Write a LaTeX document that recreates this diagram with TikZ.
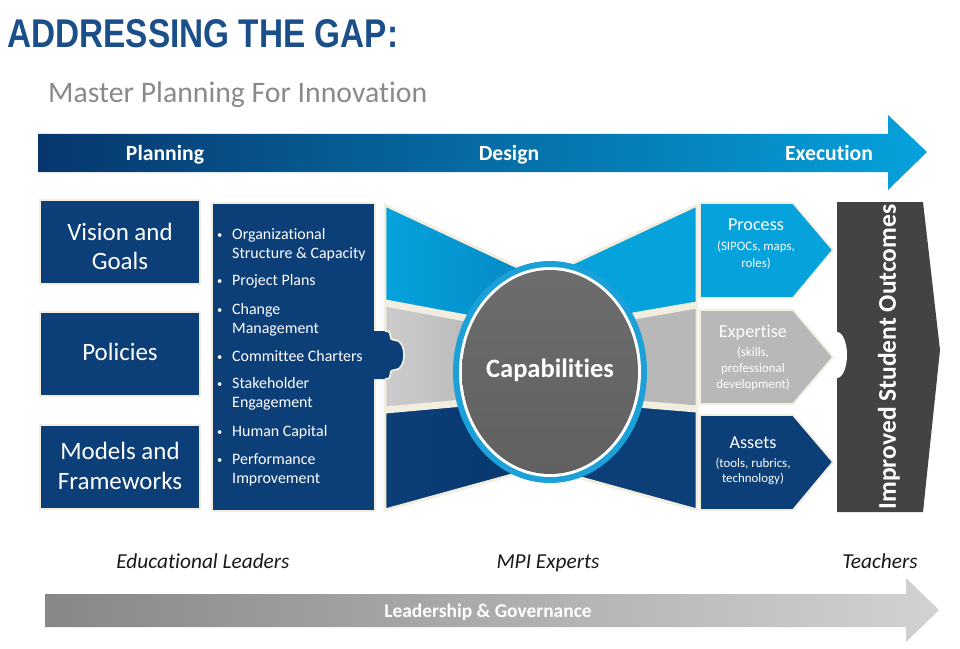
\documentclass[tikz,border=0pt]{standalone}
\usepackage{fontspec}
\setmainfont{Carlito}[Ligatures=NoCommon]
\newfontfamily\titlefont{Liberation Sans}
\usepackage{graphicx}
\usepackage{tikz}
\usetikzlibrary{calc}
\definecolor{navy}{HTML}{0C3E78}
\definecolor{navydeep}{HTML}{07366D}
\definecolor{sky}{HTML}{06A2DC}
\definecolor{skydeep}{HTML}{0588C3}
\definecolor{silver}{HTML}{B8B8B8}
\definecolor{charcoal}{HTML}{434343}
\definecolor{cream}{HTML}{F2EEDF}
\definecolor{heading}{HTML}{1B4F8A}
\definecolor{subgray}{HTML}{8A8A8A}
\definecolor{ring}{HTML}{1BA0D8}

\tikzset{
  barlabel/.style={font=\fontsize{18.5}{20}\selectfont\bfseries, text=white, anchor=base, inner sep=0pt},
  boxlabel/.style={font=\fontsize{21.3}{25}\selectfont, text=white, anchor=base, inner sep=0pt},
  bulletline/.style={font=\fontsize{13.6}{16}\selectfont, text=white, anchor=base west, inner sep=0pt},
  leftbox/.style={fill=navy, draw=cream, line width=1.5pt},
  rightbox/.style={draw=cream, line width=1.5pt, line join=round},
  rhead/.style={font=\fontsize{15.5}{18}\selectfont, text=white, anchor=base, inner sep=0pt},
  rsub/.style={font=\fontsize{11}{13}\selectfont, text=white, anchor=base, inner sep=0pt},
  role/.style={font=\fontsize{18.2}{21}\selectfont\itshape, text=black!90, anchor=base, inner sep=0pt},
}

\begin{document}
\begin{tikzpicture}[x=0.03cm, y=-0.03cm]
\useasboundingbox[fill=white] (0,0) rectangle (960,648);
% Heading
\node[anchor=south west, inner sep=0pt, text=heading] (title) at (7,48) {\resizebox{11.73cm}{0.84cm}{\titlefont\bfseries ADDRESSING THE GAP:}};
\node[anchor=base west, inner sep=0pt, text=subgray, font=\fontsize{25.4}{28}\selectfont] (subtitle) at (48,103) {Master Planning For Innovation};
%
% Phase arrow
\shade[left color=navydeep, right color=sky] (38,134) -- (888,134) -- (888,115) -- (927,152) -- (888,190) -- (888,172) -- (38,172) -- cycle;
\node[barlabel] (planning) at (165,160) {Planning};
\node[barlabel] (design) at (509,160) {Design};
\node[barlabel] (execution) at (829,160) {Execution};
%
% Planning boxes
\path[leftbox] (40,200) rectangle (200,284);
\node[boxlabel] (vision1) at (120,240) {Vision and};
\node[boxlabel] (vision2) at (120,269) {Goals};
\path[leftbox] (40,312) rectangle (200,396);
\node[boxlabel] (policies) at (120,360) {Policies};
\path[leftbox] (40,425) rectangle (200,509);
\node[boxlabel] (models1) at (120,459) {Models and};
\node[boxlabel] (models2) at (120,489) {Frameworks};
%
% Bullet list
\path[leftbox] (212,203) rectangle (375,511);
\foreach \yy/\txt [count=\i] in {239/Organizational, 258/{Structure \& Capacity}, 285/Project Plans, 314/Change, 333/Management, 361/Committee Charters, 388/Stakeholder, 407/Engagement, 436/Human Capital, 464/Performance, 483/Improvement}
  \node[bulletline] (item\i) at (232,\yy) {\txt};
\foreach \yy [count=\i] in {239,285,314,361,388,436,464}
  \node[bulletline, font=\fontsize{9}{11}\selectfont] (dot\i) at (217,\yy-1) {\textbullet};
%
% Bow tie bands
\shade[left color=sky, right color=skydeep] (385,205) -- (541,278) -- (541,332) -- (385,303) -- cycle;
\shade[left color=gray!40, right color=gray!65] (385,303) -- (541,332) -- (541,396) -- (385,410) -- cycle;
\shade[left color=navy, right color=navydeep] (385,410) -- (541,396) -- (541,467) -- (385,510) -- cycle;
\fill[sky] (697,205) -- (541,278) -- (541,332) -- (697,305) -- cycle;
\fill[silver] (697,305) -- (541,332) -- (541,396) -- (697,409) -- cycle;
\fill[navy] (697,409) -- (541,396) -- (541,467) -- (697,510) -- cycle;
\draw[cream, line width=6pt] (385,303) -- (541,332) -- (697,305);
\draw[cream, line width=6pt] (385,410) -- (541,396) -- (697,409);
\draw[cream, line width=2.5pt, line join=round] (385,205) -- (541,278) -- (697,205) -- (697,510) -- (541,467) -- (385,510) -- cycle;
%
% Puzzle tab
\fill[navy] (374,331) -- (385,331) .. controls (395,331) and (386,340) .. (395,340) .. controls (407,340) and (407,370) .. (395,370) .. controls (386,370) and (395,379) .. (385,379) -- (374,379) -- cycle;
\draw[cream, line width=1.5pt] (385,331) .. controls (395,331) and (386,340) .. (395,340) .. controls (407,340) and (407,370) .. (395,370) .. controls (386,370) and (395,379) .. (385,379);
%
% Capabilities
\fill[ring] (550,372) ellipse [x radius=97, y radius=111];
\fill[white] (550,372) ellipse [x radius=91, y radius=105];
\shade[top color=gray!85!black, bottom color=black!62] (550,372) ellipse [x radius=88, y radius=102];
\node[font=\fontsize{22.6}{26}\selectfont\bfseries, text=white] (capabilities) at (550,370) {Capabilities};
%
% Outcome arrow
\fill[charcoal] (837,202) -- (923,202) -- (940,350) -- (923,512) -- (837,512) -- cycle;
\fill[white] (837,355) ellipse [x radius=10, y radius=23];
\node[rotate=90, font=\fontsize{21.8}{24}\selectfont\bfseries, text=white] (outcomes) at (889,357) {Improved Student Outcomes};
%
% Execution boxes
\path[rightbox, fill=sky] (700,203) -- (793,203) -- (833,250) -- (793,298) -- (700,298) -- cycle;
\node[rhead] (process) at (756,230) {Process};
\node[rsub] (process1) at (756,250) {(SIPOCs, maps,};
\node[rsub] (process2) at (756,267) {roles)};
\path[rightbox, fill=silver] (700,310) -- (793,310) -- (833,357) -- (793,404) -- (700,404) -- cycle;
\node[rhead] (expertise) at (753,337) {Expertise};
\node[rsub] (expertise1) at (753,356) {(skills,};
\node[rsub] (expertise2) at (753,372) {professional};
\node[rsub] (expertise3) at (753,388) {development)};
\path[rightbox, fill=navy] (700,415) -- (793,415) -- (833,462) -- (793,510) -- (700,510) -- cycle;
\node[rhead] (assets) at (753,448) {Assets};
\node[rsub] (assets1) at (753,467) {(tools, rubrics,};
\node[rsub] (assets2) at (753,482) {technology)};
%
% Roles
\node[role] (leaders) at (203,568) {Educational Leaders};
\node[role] (experts) at (548,568) {MPI Experts};
\node[role] (teachers) at (880,568) {Teachers};
%
% Governance arrow
\shade[left color=gray!95!black!90, right color=gray!35] (45,594) -- (906,594) -- (906,578) -- (939,610) -- (906,642) -- (906,627) -- (45,627) -- cycle;
\node[barlabel, font=\fontsize{16.6}{19}\selectfont\bfseries] (governance) at (488,617) {Leadership \& Governance};
\end{tikzpicture}
\end{document}
